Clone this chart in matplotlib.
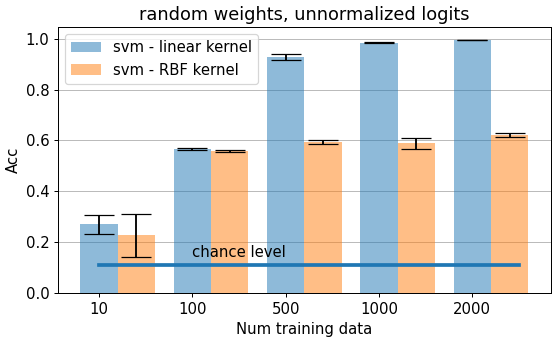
import matplotlib
matplotlib.use("Agg")
import matplotlib.pyplot as plt
import numpy as np

labels = ['10', '100', '500', '1000', '2000']
lin_acc = [0.27, 0.565, 0.929, 0.984, 0.996]
lin_err = [0.037, 0.004, 0.013, 0.002, 0.001]
rbf_acc = [0.226, 0.56, 0.593, 0.589, 0.62]
rbf_err = [0.086, 0.004, 0.007, 0.022, 0.008]
chance = 0.111

x = np.arange(len(labels))
w = 0.4

plt.rcParams['font.size'] = 12
fig, ax = plt.subplots(figsize=(558 / 89, 341 / 89), dpi=89)
ax.bar(x, lin_acc, w, yerr=lin_err, capsize=12, alpha=0.5, label='svm - linear kernel')
ax.bar(x + w, rbf_acc, w, yerr=rbf_err, capsize=12, alpha=0.5, label='svm - RBF kernel')
ax.plot([0, 4.5], [chance, chance], lw=3)
ax.text(1, 0.14, 'chance level')
ax.set_xticks(x)
ax.set_xticklabels(labels)
ax.set_xlabel('Num training data')
ax.set_ylabel('Acc')
ax.set_title('random weights, unnormalized logits', fontsize='large')
ax.yaxis.grid(True, color='#bbbbbb')
ax.set_axisbelow(True)
ax.legend(loc='upper left')
fig.subplots_adjust(left=0.104, right=0.987, top=0.921, bottom=0.141)
fig.savefig('out.png')
